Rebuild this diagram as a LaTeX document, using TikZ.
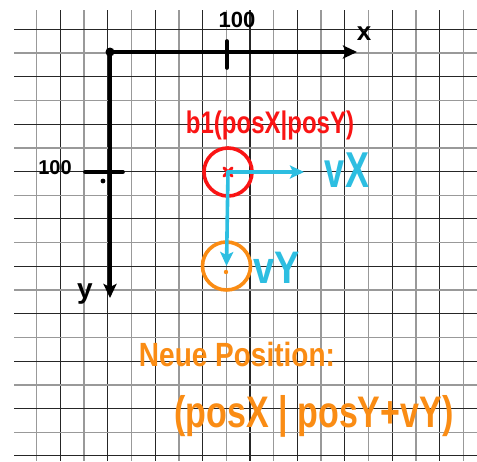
\documentclass[tikz,border=0pt]{standalone}
\usepackage{fontspec}
\setmainfont{Liberation Sans}
\usepackage{xcolor}
\usetikzlibrary{arrows.meta}
\definecolor{penred}{RGB}{250,20,20}
\definecolor{pencyan}{RGB}{45,190,225}
\definecolor{penorange}{RGB}{250,140,20}
\newcommand{\hand}[1]{\fontsize{#1}{#1}\selectfont\bfseries}

\begin{document}
\begin{tikzpicture}[x=1pt,y=-1pt,
    gridthin/.style={black!40,line width=1.4pt},
    gridthick/.style={black!85,line width=1.1pt},
    pen/.style={line width=3.6pt,line cap=round,line join=round},
    tip/.style={-{Stealth[length=14pt,width=13pt,inset=3pt]}}]
      \useasboundingbox (0,0) rectangle (477,461);
      \fill[white] (0,0) rectangle (477,461);

      \foreach \i in {0,2,...,18} \draw[gridthin] (36.7+23.7*\i,10) -- (36.7+23.7*\i,461);
      \foreach \i in {1,3,...,17} \draw[gridthick] (36.7+23.7*\i,10) -- (36.7+23.7*\i,461);
      \foreach \j in {1,3,...,17} \draw[gridthin] (14,29.3+23.7*\j) -- (477,29.3+23.7*\j);
      \foreach \j in {0,2,...,18} \draw[gridthick] (14,29.3+23.7*\j) -- (477,29.3+23.7*\j);

      \coordinate (origin) at (110,52);
      \coordinate (xend) at (357,52);
      \coordinate (yend) at (110,298);
      \draw[pen,tip] (origin) -- (xend);
      \draw[pen,tip] (origin) -- (yend);
      \fill (origin) circle (4.5);
      \draw[pen] (227,41) -- (227,68);
      \draw[pen] (85,172) -- (123,172);
      \fill (103,181) circle (2.4);

      \node (xtick) at (237,20) {\hand{22}100};
      \node (ytick) at (55,168) {\hand{20}100};
      \node (xlabel) at (364,34) {\hand{26}x};
      \node (ylabel) at (85,294) {\hand{28}y};

      \node[circle,draw=penred,line width=3.6pt,minimum size=48pt,inner sep=0pt] (ball) at (228,172) {};
      \draw[penred,line width=3pt,line cap=round] (224,168) -- (232,176) (232,168) -- (224,176);
      \node[text=penred] (balllabel) at (270,126) {\hand{24}\scalebox{1}[1.3]{b1(posX|posY)}};

      \node[circle,draw=penorange,line width=3.6pt,minimum size=48pt,inner sep=0pt] (newball) at (226.5,266) {};
      \fill[penorange] (226,272) circle (2.2);

      \coordinate (vxend) at (304,172);
      \draw[pen,pencyan,tip] (ball.center) -- (vxend);
      \draw[pen,pencyan,tip] (ball.center) -- (newball.center);
      \node[text=pencyan] (vxlabel) at (347,170) {\hand{36}\scalebox{1}[1.4]{vX}};
      \node[text=pencyan] (vylabel) at (277,268) {\hand{38}\scalebox{1}[1.2]{vY}};

      \node[text=penorange] (newposlabel) at (237,354) {\hand{28}\scalebox{1}[1.2]{Neue Position:}};
      \node[text=penorange] (newposvalue) at (314,416) {\hand{34}\scalebox{1}[1.3]{(posX | posY+vY)}};
    \end{tikzpicture}
\end{document}
